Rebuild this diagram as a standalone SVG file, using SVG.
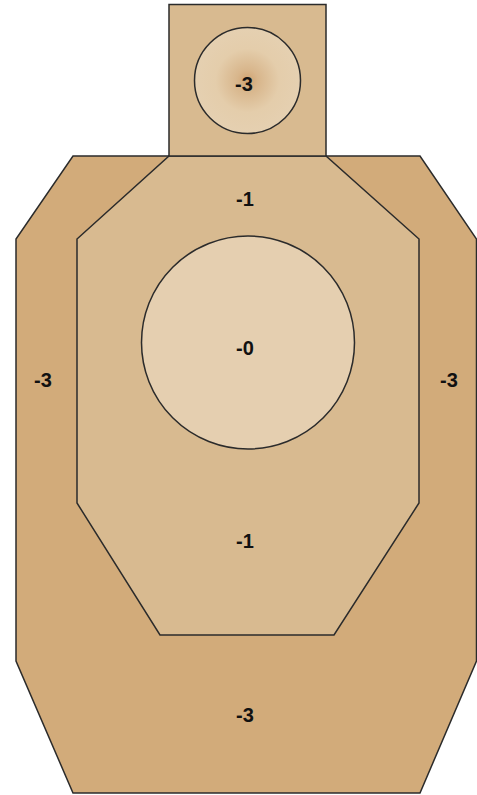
<svg xmlns="http://www.w3.org/2000/svg" width="477" height="795" viewBox="0 0 477 795">
<defs>
<radialGradient id="headGrad" cx="0.5" cy="0.5" r="0.5">
<stop offset="0" stop-color="#D0A270"/>
<stop offset="0.2" stop-color="#D8B68C"/>
<stop offset="0.6" stop-color="#E4CDAB"/>
<stop offset="1" stop-color="#E5D0B1"/>
</radialGradient>
<style>
.zone{stroke:#2b2b2b;stroke-width:1.5;stroke-linejoin:miter}
.outer{fill:#D2AB7A}
.inner{fill:#D8BA90}
.center{fill:#E5CFB0}
.lbl{font-family:"Liberation Sans",Arial,sans-serif;font-size:20px;font-weight:bold;fill:#111;text-anchor:middle}
</style>
</defs>
<g id="outer-zone">
<polygon class="zone outer" points="73,156 420,156 476.5,239 476.5,661 420,793 73,793 16,661 16,239"/>
<text class="lbl" x="43" y="387">-3</text>
<text class="lbl" x="449" y="387">-3</text>
<text class="lbl" x="245" y="722">-3</text>
</g>
<g id="inner-zone">
<polygon class="zone inner" points="169,156 326,156 419,239 419,503 334,635 160,635 77,503 77,239"/>
<text class="lbl" x="245" y="206">-1</text>
<text class="lbl" x="245" y="548">-1</text>
</g>
<g id="center-zone">
<circle class="zone center" cx="248" cy="342.5" r="106.5"/>
<text class="lbl" x="245" y="355">-0</text>
</g>
<g id="head">
<rect class="zone inner" x="169" y="4.5" width="157" height="151.5"/>
<circle class="zone" fill="url(#headGrad)" cx="247.5" cy="80.5" r="53"/>
<text class="lbl" x="244" y="91">-3</text>
</g>
</svg>
